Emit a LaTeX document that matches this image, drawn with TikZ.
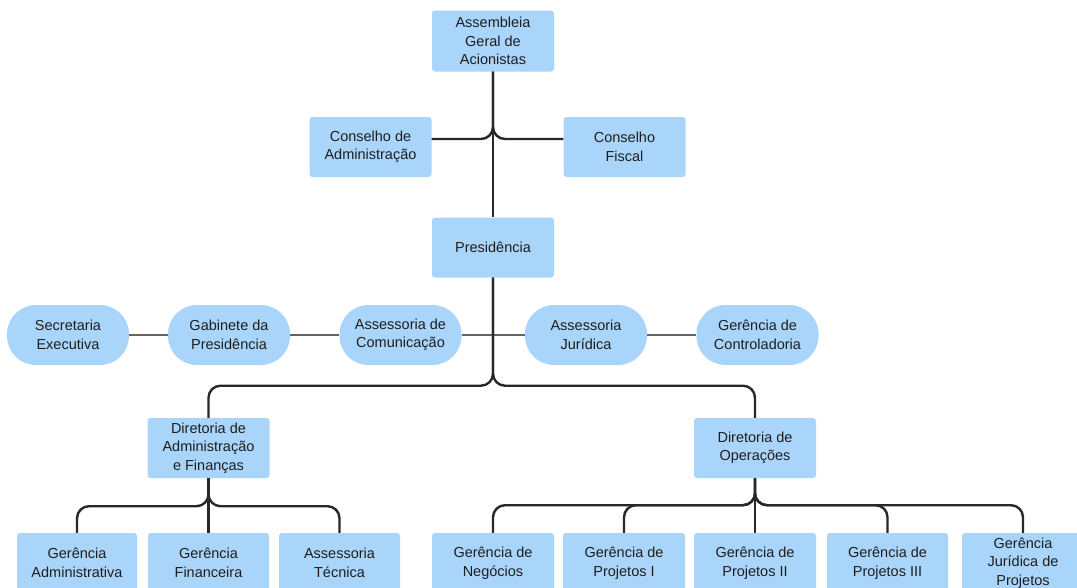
\documentclass[tikz,border=0pt]{standalone}
\usepackage{fontspec}
\setmainfont{Liberation Sans}
\usetikzlibrary{calc}
\definecolor{boxblue}{RGB}{170,213,250}
\definecolor{textdark}{RGB}{30,30,30}
\definecolor{linedark}{RGB}{40,40,40}
\definecolor{linegray}{RGB}{100,100,100}
\tikzset{
  box/.style={fill=boxblue, draw=none, rounded corners=3pt, minimum width=122pt, minimum height=60pt,
    inner sep=0pt, align=center, font=\fontsize{14.5}{18.5}\selectfont, text=textdark},
  pill/.style={box, rounded corners=29pt},
  conn/.style={draw=linedark, line width=2.4pt, rounded corners=12pt},
  link/.style={draw=linegray, line width=1.6pt},
}
\begin{document}
\begin{tikzpicture}[x=1pt,y=-1pt]
\useasboundingbox (0,0) rectangle (1077,587);
\clip (0,0) rectangle (1077,587);
\fill[white] (0,0) rectangle (1077,587);

% top level
\node[box, minimum height=61pt] (A) at (493,41) {Assembleia\\Geral de\\Acionistas};
\node[box] (CA) at (370.5,147) {Conselho de\\Administração};
\node[box] (CF) at (624.5,147) {Conselho\\Fiscal};
\node[box] (P) at (493,247.5) {Presidência};

% advisory row
\node[pill] (sec) at (68,335) {Secretaria\\Executiva};
\node[pill] (gab) at (229,335) {Gabinete da\\Presidência};
\node[pill] (com) at (400.5,335) {Assessoria de\\Comunicação};
\node[pill] (jur) at (586,335) {Assessoria\\Jurídica};
\node[pill] (ctrl) at (757.5,335) {Gerência de\\Controladoria};

% directorates
\node[box] (DA) at (208.5,448) {Diretoria de\\Administração\\e Finanças};
\node[box] (DO) at (755,448) {Diretoria de\\Operações};

% managers
\node[box, minimum width=120pt] (gadm) at (77,563) {Gerência\\Administrativa};
\node[box, minimum width=121pt] (gfin) at (208.5,563) {Gerência\\Financeira};
\node[box, minimum width=121pt] (atec) at (339.5,563) {Assessoria\\Técnica};
\node[box] (gneg) at (493,563) {Gerência de\\Negócios};
\node[box] (gp1) at (624,563) {Gerência de\\Projetos I};
\node[box] (gp2) at (755,563) {Gerência de\\Projetos II};
\node[box, minimum width=121pt] (gp3) at (887.5,563) {Gerência de\\Projetos III};
\node[box] (gjur) at (1023,563) {Gerência\\Jurídica de\\Projetos};

% connectors top
\draw[conn] (A.south) -- (P.north);
\draw[conn] (A.south) |- ([yshift=8pt]CA.east);
\draw[conn] (A.south) |- ([yshift=8pt]CF.west);

% advisory links
\draw[link] (sec) -- (gab);
\draw[link] (gab) -- (com);
\draw[link] (com) -- (jur);
\draw[link] (jur) -- (ctrl);

% presidency to directorates
\coordinate (jP) at ($(P.south)+(0,108)$);
\draw[conn] (P.south) -- (jP) -| (DA.north);
\draw[conn] (P.south) -- (jP) -| (DO.north);

% DA branch
\coordinate (jDA) at ($(DA.south)+(0,28)$);
\draw[conn] (DA.south) -- (jDA) -| (gadm.north);
\draw[conn] (DA.south) -- (gfin.north);
\draw[conn] (DA.south) -- (jDA) -| (atec.north);

% DO branch
\coordinate (jDO) at ($(DO.south)+(0,27)$);
\draw[conn] (DO.south) -- (jDO) -| (gneg.north);
\draw[conn] (DO.south) -- (jDO) -| (gp1.north);
\draw[conn] (DO.south) -- (gp2.north);
\draw[conn] (DO.south) -- (jDO) -| (gp3.north);
\draw[conn] (DO.south) -- (jDO) -| (gjur.north);
\end{tikzpicture}
\end{document}
